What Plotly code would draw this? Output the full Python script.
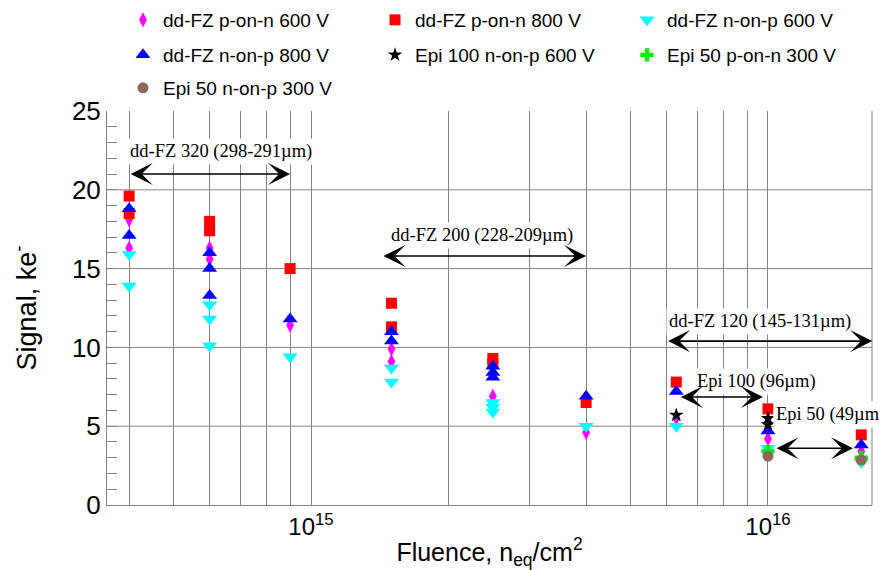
import numpy as np
import plotly.graph_objects as go

# ---------------- data (fluence in n_eq/cm^2, signal in ke-) ----------------
pn600_x = [4e14, 4e14, 6e14, 6e14, 9e14, 1.5e15, 1.5e15, 2.5e15, 4e15, 6.3e15, 1e16, 1.6e16]
pn600_y = [18.1, 16.3, 16.3, 15.6, 11.4, 9.9, 9.1, 6.9, 4.6, 5.5, 4.2, 3.4]

pn800_x = [4e14, 4e14, 6e14, 6e14, 9e14, 1.5e15, 1.5e15, 2.5e15, 2.5e15, 4e15, 6.3e15, 1e16, 1.6e16]
pn800_y = [19.6, 18.5, 18.0, 17.4, 15.0, 12.8, 11.3, 9.3, 9.0, 6.5, 7.8, 6.1, 4.45]

np600_x = [4e14, 4e14, 6e14, 6e14, 6e14, 9e14, 1.5e15, 1.5e15, 2.5e15, 2.5e15, 2.5e15, 4e15, 6.3e15, 1e16, 1.6e16]
np600_y = [15.9, 13.9, 12.7, 11.8, 10.1, 9.4, 8.7, 7.8, 6.5, 6.2, 5.9, 5.0, 5.0, 3.6, 2.7]

np800_x = [4e14, 4e14, 6e14, 6e14, 6e14, 9e14, 1.5e15, 1.5e15, 2.5e15, 2.5e15, 2.5e15, 4e15, 6.3e15, 1e16, 1.6e16]
np800_y = [18.8, 17.1, 16.0, 15.0, 13.3, 11.8, 11.0, 10.4, 8.8, 8.4, 8.1, 6.9, 7.2, 4.7, 3.8]

epi100_x = [6.3e15, 1e16, 1e16]
epi100_y = [5.7, 5.5, 5.1]

epi50pn_x = [1e16, 1.6e16]
epi50pn_y = [3.4, 3.0]

epi50np_x = [1e16, 1.6e16]
epi50np_y = [3.1, 2.85]

series_names = ["dd-FZ p-on-n 600 V", "dd-FZ p-on-n 800 V", "dd-FZ n-on-p 600 V",
                "dd-FZ n-on-p 800 V", "Epi 100 n-on-p 600 V", "Epi 50 p-on-n 300 V",
                "Epi 50 n-on-p 300 V"]

# thickness ranges
range_labels = ["dd-FZ 320 (298-291µm)", "dd-FZ 200 (228-209µm)", "dd-FZ 120 (145-131µm)",
                "Epi 100 (96µm)", "Epi 50 (49µm)"]

# ---------------- figure ----------------
styles = [
    dict(symbol="diamond-tall", color="#ff00ff", size=11),
    dict(symbol="square", color="#ff0000", size=11),
    dict(symbol="triangle-down", color="#00ffff", size=13),
    dict(symbol="triangle-up", color="#0000ff", size=13),
    dict(symbol="star", color="#000000", size=11),
    dict(symbol="cross", color="#00ee00", size=11),
    dict(symbol="circle", color="#8b6a55", size=11),
]
xs = [pn600_x, pn800_x, np600_x, np800_x, epi100_x, epi50pn_x, epi50np_x]
ys = [pn600_y, pn800_y, np600_y, np800_y, epi100_y, epi50pn_y, epi50np_y]
legend_of = ["legend", "legend", "legend", "legend2", "legend2", "legend2", "legend3"]

fig = go.Figure()
for name, x, y, st, lg in zip(series_names, xs, ys, styles, legend_of):
    fig.add_trace(go.Scatter(
        x=x, y=y, mode="markers", name=name, legend=lg,
        marker=dict(symbol=st["symbol"], color=st["color"], size=st["size"],
                    line=dict(width=0)),
    ))

# x ticks: every 1..9 x decade gets a grid line, decades labelled
tickvals, ticktext = [], []
for dec in [14, 15, 16]:
    for m in range(1, 10):
        v = m * 10.0 ** dec
        tickvals.append(v)
        ticktext.append(f"10<sup>{dec}</sup>" if m == 1 else " ")

gray = "#838383"
fig.update_xaxes(
    type="log", range=[14.5536, 16.2276],
    tickvals=tickvals, ticktext=ticktext, tickangle=0,
    showgrid=True, gridcolor=gray, gridwidth=1,
    ticks="inside", ticklen=6, tickcolor=gray,
    showline=True, linecolor=gray, linewidth=1,
    tickfont=dict(family="Liberation Sans", size=24, color="black"),
    title=dict(text="Fluence, n<sub>eq</sub>/cm<sup>2</sup>",
               font=dict(family="Liberation Sans", size=25, color="black"), standoff=0),
    zeroline=False, automargin=False,
)
fig.update_yaxes(
    range=[0, 25], tickvals=[0, 5, 10, 15, 20, 25],
    showgrid=False,
    ticks="inside", ticklen=10, tickcolor=gray,
    minor=dict(dtick=1, ticks="inside", ticklen=10, tickcolor=gray, showgrid=False),
    showline=True, linecolor=gray, linewidth=1,
    tickfont=dict(family="Liberation Sans", size=26, color="black"),
    title=dict(text="Signal, ke<sup>-</sup>",
               font=dict(family="Liberation Sans", size=27, color="black"), standoff=30),
    zeroline=False, automargin=False,
)

shapes = []
for gv in [5, 10, 15, 20]:
    shapes.append(dict(type="line", xref="paper", yref="y", x0=0, x1=1, y0=gv, y1=gv,
                       line=dict(color=gray, width=1), layer="below"))
shapes.append(dict(type="line", xref="paper", yref="paper", x0=1, x1=1, y0=0, y1=1,
                   line=dict(color=gray, width=1), layer="below"))

# range arrows and labels
arrow_from = [4e14, 1.43e15, 6e15, 6.4e15, 1.036e16]
arrow_to = [9e14, 4e15, 1.69e16, 9.75e15, 1.535e16]
arrow_y = [21.0, 15.8, 10.4, 6.85, 3.6]
label_x = [6.35e14, 2.37e15, 9.6e15, 9.42e15, 1.37e16]
label_y = [22.4, 17.1, 11.63, 7.82, 5.77]

annotations = []
for t, a0, a1, ay, lx, ly in zip(range_labels, arrow_from, arrow_to, arrow_y, label_x, label_y):
    annotations.append(dict(
        x=np.log10(lx), y=ly, xref="x", yref="y", text=t, showarrow=False,
        font=dict(family="Liberation Serif", size=18.5, color="black"),
        bgcolor="white", borderpad=2,
    ))
    annotations.append(dict(
        x=np.log10(a1), y=ay, ax=np.log10(a0), ay=ay,
        xref="x", yref="y", axref="x", ayref="y", text="",
        showarrow=True, arrowside="end+start",
        arrowhead=3, startarrowhead=3, arrowsize=2.3, startarrowsize=2.3,
        arrowwidth=1.6, arrowcolor="black", standoff=0, startstandoff=0,
    ))

# the page body has an 8 px margin, so the figure is drawn 8 px in from the top-left
W, H = 879, 562
leg_common = dict(orientation="h", xanchor="left", yanchor="middle",
                  xref="container", yref="container",
                  entrywidth=207, entrywidthmode="pixels",
                  font=dict(family="Liberation Sans", size=19, color="black"),
                  bgcolor="rgba(0,0,0,0)", itemclick=False)

fig.update_layout(
    width=W, height=H,
    margin=dict(l=99, r=15, t=103, b=65, autoexpand=False),
    plot_bgcolor="white", paper_bgcolor="white",
    font=dict(family="Liberation Sans", color="black"),
    showlegend=True,
    legend=dict(x=115 / W, y=1 - 12 / H, **leg_common),
    legend2=dict(x=115 / W, y=1 - 47 / H, **leg_common),
    legend3=dict(x=115 / W, y=1 - 80 / H, **leg_common),
    shapes=shapes,
    annotations=annotations,
)

fig.write_html("out.html")
